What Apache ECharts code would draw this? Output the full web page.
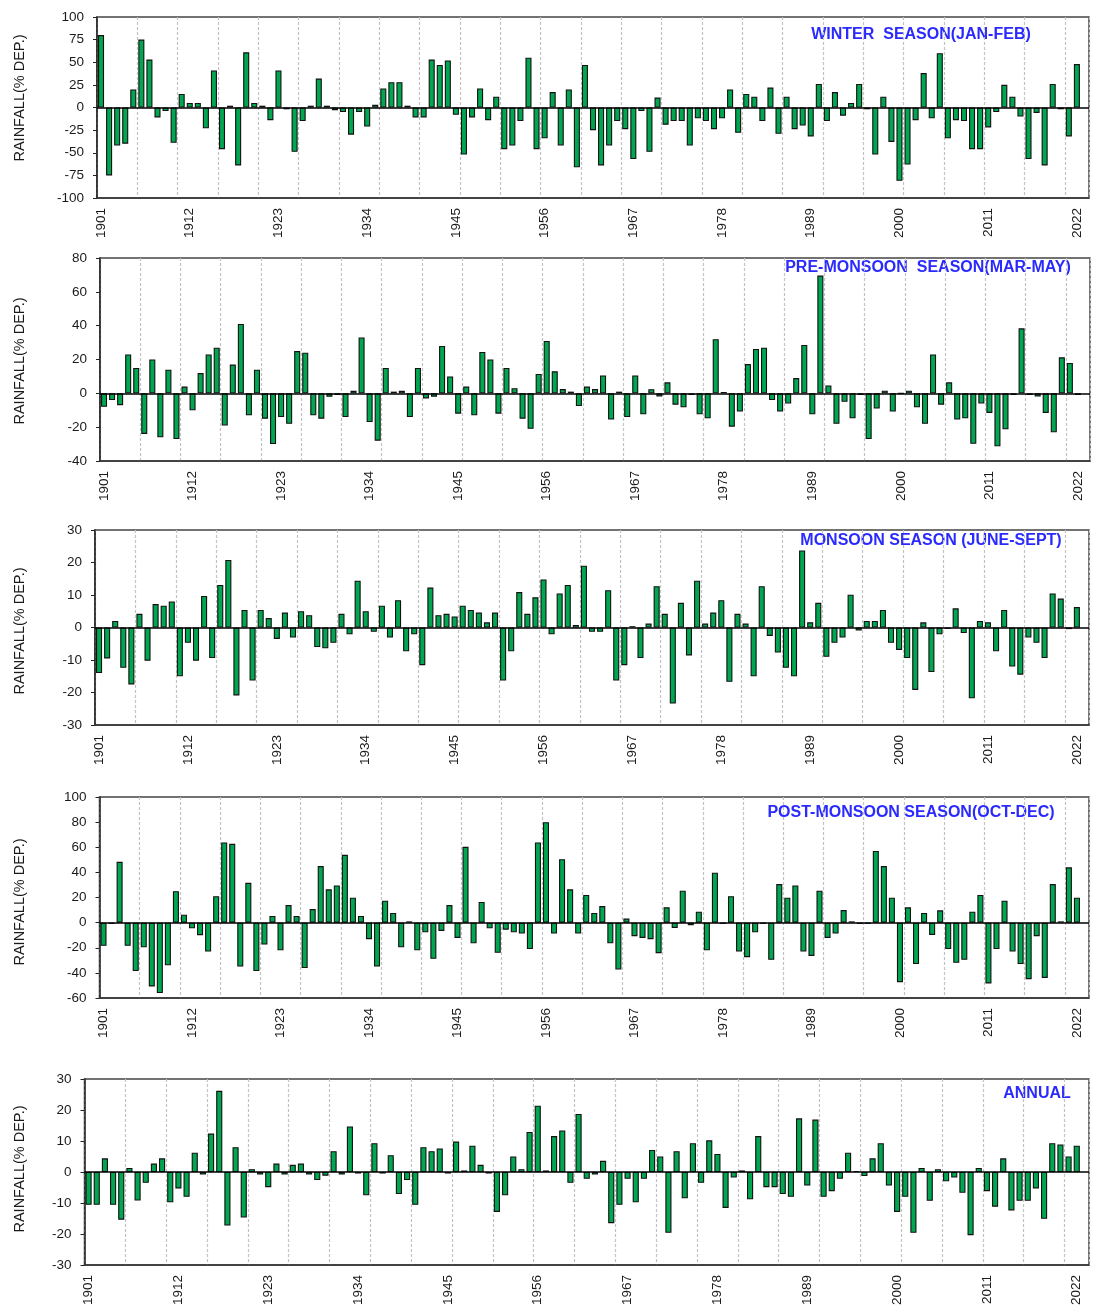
<!DOCTYPE html>
<html>
<head>
<meta charset="utf-8">
<script src="https://cdn.jsdelivr.net/npm/echarts@6/dist/echarts.min.js"></script>
<style>
html,body{margin:0;padding:0;background:#fff;}
#chart{width:1093px;height:1308px;}
</style>
</head>
<body>
<div id="chart"></div>
<script>
// Categories: years 1901-2022 (one empty slot at the end, as in the reference axis)
const years = [];
for (let y = 1901; y <= 2022; y++) years.push(String(y));
years.push('');

// Rainfall departures (% DEP.)
const winter = [80,-75,-42,-40,20,75,53,-11,-4,-39,15,5,5,-23,41,-46,2,-64,61,5,
2,-14,41,-2,-49,-15,2,32,2,-3,-5,-30,-5,-21,3,21,28,28,2,-11,
-11,53,47,52,-8,-52,-11,21,-14,12,-46,-42,-15,55,-46,-34,17,-42,20,-66,
47,-25,-64,-42,-15,-24,-57,-4,-49,11,-19,-15,-15,-42,-12,-15,-24,-12,20,-28,
15,12,-15,22,-29,12,-24,-20,-32,26,-15,17,-9,5,26,-2,-52,12,-38,-81,
-63,-14,38,-12,60,-34,-14,-15,-46,-46,-22,-5,25,12,-10,-57,-6,-64,26,-2,
-32,48];

const preMonsoon = [-8,-4,-7,23,15,-24,20,-26,14,-27,4,-10,12,23,27,-19,17,41,-13,14,
-15,-30,-14,-18,25,24,-13,-15,-2,-1,-14,1.5,33,-17,-28,15,1,1.5,-14,15,
-3,-2,28,10,-12,4,-13,24.5,20,-12,15,3,-15,-21,11.5,31,13,2.5,1,-7.5,
4,2.5,10.6,-15.5,1,-14,10.6,-12.4,2.4,-1.8,6.5,-6.7,-8.3,-1,-12.4,-14.8,32,0.8,-19.7,-10.8,
17.3,26.2,27,-4,-10.8,-6,9,28.6,-12.4,69.6,4.7,-18,-5,-14.8,-1,-27,-9,1.6,-10.8,0,
1.6,-8.3,-18,23,-6.7,6.5,-15.5,-14.8,-29.8,-6,-11.6,-31.3,-21.3,-1,38.4,-1,-1.8,-11.6,-23,21.3,
18,-1];

const monsoon = [-14,-9.5,2,-12.4,-17.5,4.2,-10.2,7.2,6.7,8,-15,-4.7,-10.2,9.7,-9.4,13.1,20.8,-20.9,5.4,-16.3,
5.4,2.9,-3.5,4.6,-3.1,5,3.8,-6,-6.4,-4.7,4.2,-2.1,14.4,5,-1.3,6.7,-3.1,8.4,-7.3,-2.1,
-11.6,12.3,3.8,4.2,3.4,6.7,5.4,4.6,1.6,4.6,-16.3,-7.3,10.9,4.2,9.3,14.8,-2.1,10.5,13.1,0.8,
19,-1.3,-1.3,11.5,-16.3,-11.6,0.4,-9.4,1.2,12.7,4.2,-23.4,7.6,-8.6,14.4,1.2,4.6,8.4,-16.7,4.2,
1.2,-15,12.7,-2.6,-7.7,-12.4,-15,23.7,1.6,7.6,-9,-4.7,-3.1,10.1,-0.9,2,2,5.4,-4.7,-6.9,
-9.4,-19.2,1.6,-13.7,-2.1,-0.4,5.9,-1.7,-21.8,2,1.6,-7.3,5.4,-12,-14.5,-3.1,-4.7,-9.4,10.5,8.9,
-0.5,6.3];

const postMonsoon = [-18.5,-1,48.4,-18.5,-38.6,-19.6,-50.8,-56,-34,25,6.3,-4.5,-10,-23,21,63.8,62.7,-35,31.7,-38.6,
-17.5,5.3,-22,14,5.3,-36.2,10.8,45,26.5,29.6,54,19.8,5.3,-13.2,-35,17.5,7.7,-19.6,1,-22,
-7.7,-28.8,-6.6,14,-12.2,60.3,-16.4,16.4,-4.5,-24,-5.6,-7.7,-8.7,-21,63.8,80,-8.7,50.5,26.5,-8.7,
22,7.7,13.2,-16.4,-37.3,3.2,-10.8,-12.2,-13.2,-24.3,12.2,-4.2,25.4,-2,8.7,-22,39.7,-1,21,-23,
-27.5,-7.7,-1,-29.6,30.7,19.8,29.6,-23,-26.5,25.4,-12.2,-8.7,10,1,-1,-1,57,45,19.8,-47.4,
12.2,-33,7.7,-9.8,9.8,-21,-32,-29.6,8.7,22,-48.4,-21,17.5,-23,-33,-45,-10.8,-44,30.7,1,
44,19.8];

const annual = [-10.6,-10.6,4.4,-10.6,-15.4,1.3,-9.2,-3.5,2.7,4.4,-9.8,-5.3,-8,6.2,-0.8,12.4,26.2,-17.3,8,-14.7,
0.9,-0.8,-4.9,2.7,-0.8,2.3,2.7,-0.8,-2.6,-1.2,6.7,-0.8,14.7,-0.5,-7.5,9.3,-0.5,5.4,-7.1,-2.6,
-10.6,8,6.7,7.6,-0.5,9.8,0.5,8.5,2.3,-0.5,-12.9,-7.5,5,0.9,12.9,21.4,0.5,11.6,13.4,-3.5,
18.7,-2.2,-0.8,3.6,-16.5,-10.6,-2.2,-9.8,-2.2,7.1,5,-19.6,6.7,-8.5,9.3,-3.5,10.2,5.8,-11.6,-1.8,
0.5,-8.8,11.6,-4.9,-4.9,-7.1,-8,17.3,-4.4,16.9,-8,-6.2,-2.2,6.2,0.3,-1.3,4.4,9.3,-4.4,-12.9,
-8,-19.6,1.3,-9.3,0.9,-3,-1.8,-6.7,-20.4,1.3,-6.2,-11.2,4.4,-12.4,-9.3,-9.3,-5.3,-15.1,9.3,8.9,
5,8.5];

const titles = ['WINTER  SEASON(JAN-FEB)', 'PRE-MONSOON  SEASON(MAR-MAY)', 'MONSOON SEASON (JUNE-SEPT)',
  'POST-MONSOON SEASON(OCT-DEC)', 'ANNUAL'];
const seriesData = [winter, preMonsoon, monsoon, postMonsoon, annual];
const yMin = [-100, -40, -30, -60, -30];
const yMax = [100, 80, 30, 100, 30];
const yStep = [25, 20, 10, 20, 10];
const yName = 'RAINFALL(% DEP.)';

// layout (pixels)
const grids = [
  {left: 97,   top: 17,   width: 992,   height: 181},
  {left: 100,  top: 258,  width: 990,   height: 203},
  {left: 95,   top: 530,  width: 994,   height: 195},
  {left: 99.5, top: 797,  width: 989.5, height: 201},
  {left: 84.5, top: 1079, width: 1004.5, height: 187}
];
const titlePos = [[921, 35], [928, 268], [931, 541], [911, 813], [1037, 1094]];
const namePos = [[20, 98], [20, 361], [20, 631], [20, 902], [20, 1169]];

const FONT = '"Liberation Sans", Arial, sans-serif';

const option = {
  animation: false,
  backgroundColor: '#ffffff',
  grid: grids.map(g => Object.assign({show: true, borderColor: '#444', borderWidth: 1.5, backgroundColor: 'transparent'}, g)),
  xAxis: grids.map((g, i) => ({
    type: 'category',
    gridIndex: i,
    data: years,
    boundaryGap: true,
    axisLine: {onZero: false, lineStyle: {color: '#333', width: 1.5}},
    axisTick: {show: false},
    axisLabel: {interval: 10, rotate: 90, margin: 10, fontSize: 13.5, color: '#1a1a1a', fontFamily: FONT},
    splitLine: {show: true, interval: 4, lineStyle: {color: '#c2c2c2', width: 1.2, type: [3, 2]}}
  })),
  yAxis: grids.map((g, i) => ({
    type: 'value',
    gridIndex: i,
    min: yMin[i], max: yMax[i], interval: yStep[i],
    axisLine: {show: true, lineStyle: {color: '#222', width: 1.5}},
    axisTick: {show: true, length: 4, lineStyle: {color: '#222'}},
    axisLabel: {margin: 13, fontSize: 13.5, color: '#1a1a1a', fontFamily: FONT},
    splitLine: {show: false}
  })),
  series: seriesData.map((d, i) => ({
    type: 'bar',
    xAxisIndex: i,
    yAxisIndex: i,
    data: d,
    barCategoryGap: '25%',
    itemStyle: {color: '#00a650', borderColor: '#111', borderWidth: 1.1},
    markLine: {
      silent: true,
      symbol: ['none', 'none'],
      label: {show: false},
      lineStyle: {color: '#000', width: 1.5, type: 'solid'},
      data: [{yAxis: 0}]
    }
  })),
  graphic: [
    ...titles.map((t, i) => ({
      type: 'text',
      x: titlePos[i][0], y: titlePos[i][1],
      style: {text: t, align: 'center', verticalAlign: 'middle', fill: '#2a2aff',
        font: 'bold 16px ' + FONT}
    })),
    ...namePos.map(p => ({
      type: 'text',
      x: p[0], y: p[1],
      rotation: Math.PI / 2,
      style: {text: yName, align: 'center', verticalAlign: 'middle', fill: '#1a1a1a',
        font: '14.5px ' + FONT}
    }))
  ]
};

const chart = echarts.init(document.getElementById('chart'), null, {renderer: 'canvas'});
chart.setOption(option);
</script>
</body>
</html>
